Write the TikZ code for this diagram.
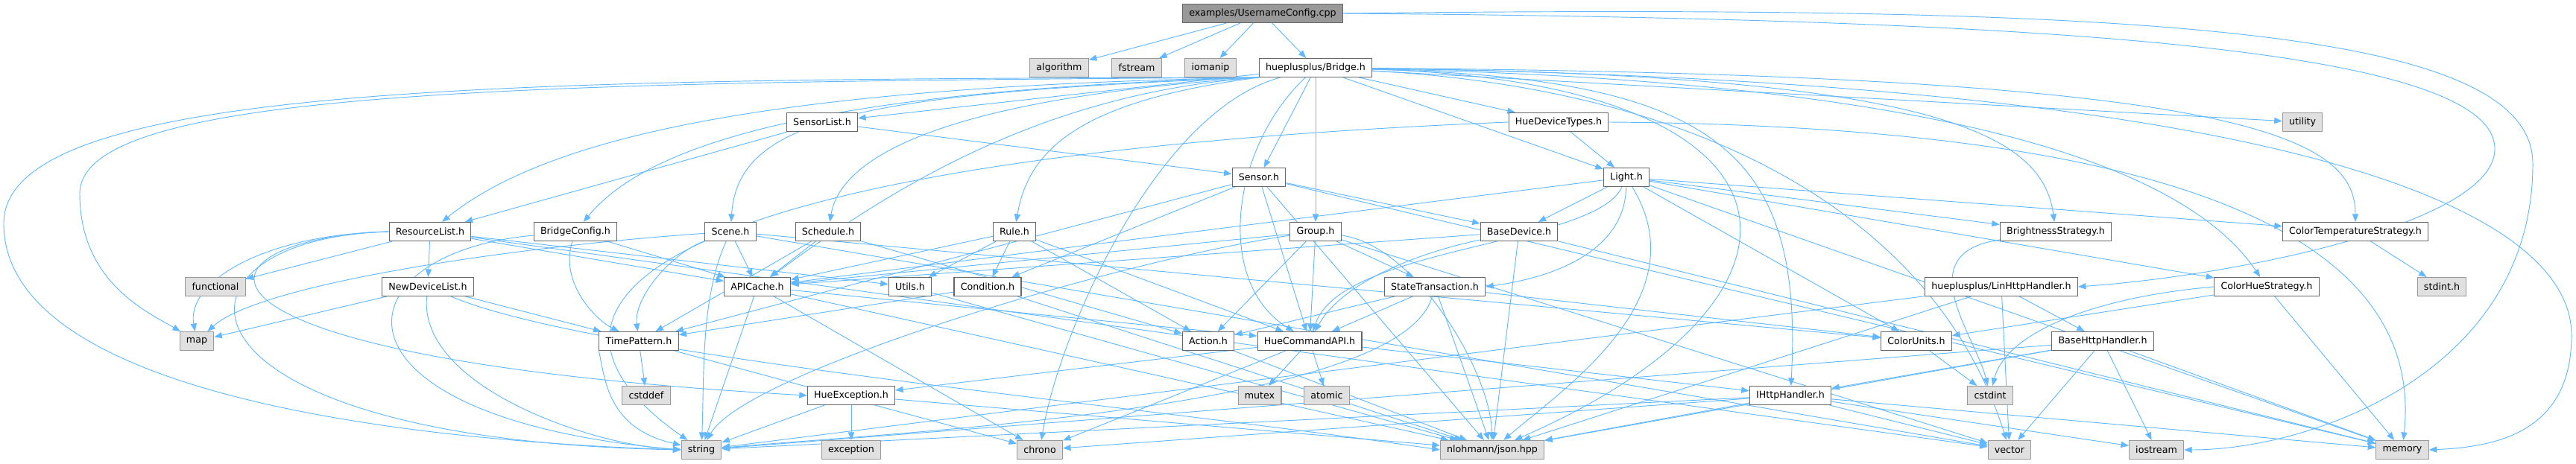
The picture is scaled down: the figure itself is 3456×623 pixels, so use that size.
\documentclass[tikz,border=0pt]{standalone}
\usepackage{fontspec}
\setmainfont{DejaVu Sans}
\usetikzlibrary{arrows.meta}
\pgfdeclarelayer{background}
\pgfsetlayers{background,main}
\definecolor{edgeblue}{HTML}{63B8FF}
\definecolor{filegray}{HTML}{666666}
\definecolor{sysgray}{HTML}{999999}
\definecolor{sysfill}{HTML}{E0E0E0}
\tikzset{
    box/.style={rectangle, line width=0.9pt, minimum height=0.75cm, inner xsep=7.5pt,
        font=\fontsize{10.8}{13}\selectfont},
    file/.style={box, draw=filegray, fill=white},
    sys/.style={box, draw=sysgray, fill=sysfill},
    rootfile/.style={box, draw=filegray, fill=sysgray},
    incl/.style={->, draw=edgeblue, line width=0.8pt}
}
\begin{document}
\begin{tikzpicture}[x=0.03cm, y=-0.03cm, >={Triangle[length=9pt,width=7pt]}]
    \useasboundingbox (0,0) rectangle (3456,623);
    % row 1 and 2
    \node[rootfile] (root) at (1694,18) {examples/UsernameConfig.cpp};
    \node[sys] (algorithm) at (1421,91) {algorithm};
    \node[sys] (fstream) at (1525,91) {fstream};
    \node[sys] (iomanip) at (1624,91) {iomanip};
    \node[file] (bridge) at (1765,91) {hueplusplus/Bridge.h};
    % row 3 and 4
    \node[file] (sensorlist) at (1103,164) {SensorList.h};
    \node[file] (devtypes) at (2091,164) {HueDeviceTypes.h};
    \node[sys] (utility) at (3089,164) {utility};
    \node[file] (sensor) at (1689,238) {Sensor.h};
    \node[file] (light) at (2182,238) {Light.h};
    % row 5
    \node[file] (resourcelist) at (577,311) {ResourceList.h};
    \node[file] (bridgeconfig) at (772,311) {BridgeConfig.h};
    \node[file] (scene) at (980,311) {Scene.h};
    \node[file] (schedule) at (1111,311) {Schedule.h};
    \node[file] (rule) at (1361,311) {Rule.h};
    \node[file] (group) at (1765,311) {Group.h};
    \node[file] (basedevice) at (2038,311) {BaseDevice.h};
    \node[file] (brightness) at (2758,311) {BrightnessStrategy.h};
    \node[file] (colortemp) at (3160,311) {ColorTemperatureStrategy.h};
    % row 6
    \node[sys] (functional) at (289,385) {functional};
    \node[file] (newdevlist) at (574,385) {NewDeviceList.h};
    \node[file] (apicache) at (1016,385) {APICache.h};
    \node[file] (utils) at (1221,385) {Utils.h};
    \node[file] (condition) at (1325,385) {Condition.h};
    \node[file] (statetrans) at (1925,385) {StateTransaction.h};
    \node[file] (linhttp) at (2685,385) {hueplusplus/LinHttpHandler.h};
    \node[file] (colorhue) at (3041,385) {ColorHueStrategy.h};
    \node[sys] (stdint) at (3276,385) {stdint.h};
    % row 7
    \node[sys] (map) at (264,458) {map};
    \node[file] (timepattern) at (857,458) {TimePattern.h};
    \node[file] (action) at (1621,458) {Action.h};
    \node[file] (huecmd) at (1757,458) {HueCommandAPI.h};
    \node[file] (colorunits) at (2571,458) {ColorUnits.h};
    \node[file] (basehttp) at (2821,458) {BaseHttpHandler.h};
    % row 8
    \node[sys] (cstddef) at (867,531) {cstddef};
    \node[file] (hueexc) at (1142,531) {HueException.h};
    \node[sys] (mutex) at (1690,531) {mutex};
    \node[sys] (atomic) at (1780,531) {atomic};
    \node[file] (ihttp) at (2402,531) {IHttpHandler.h};
    \node[sys] (cstdint) at (2670,531) {cstdint};
    % row 9
    \node[sys] (string) at (941,604) {string};
    \node[sys] (exception) at (1142,604) {exception};
    \node[sys] (chrono) at (1395,604) {chrono};
    \node[sys] (json) at (2002,604) {nlohmann/json.hpp};
    \node[sys] (vector) at (2696,604) {vector};
    \node[sys] (iostream) at (2893,604) {iostream};
    \node[sys] (memory) at (3223,604) {memory};

    \begin{pgfonlayer}{background}
    % straight includes
    \foreach \a/\b in {root/algorithm, root/fstream, root/iomanip, root/bridge,
        bridge/sensorlist, bridge/sensor, bridge/group, bridge/devtypes, bridge/light, bridge/utility,
        sensorlist/resourcelist, sensorlist/sensor,
        resourcelist/functional, resourcelist/newdevlist, resourcelist/apicache, resourcelist/utils, resourcelist/vector,
        newdevlist/map, newdevlist/timepattern, bridgeconfig/apicache,
        scene/apicache, scene/colorunits, scene/vector,
        schedule/apicache, schedule/timepattern, schedule/action,
        rule/apicache, rule/action, rule/condition, rule/huecmd, rule/utils,
        sensor/basedevice, sensor/huecmd, sensor/condition, sensor/timepattern, sensor/memory, sensor/json,
        group/action, group/huecmd, group/statetrans, group/apicache, group/vector,
        devtypes/light,
        light/basedevice, light/brightness, light/colortemp, light/colorhue, light/colorunits,
        light/apicache, light/memory,
        basedevice/json, basedevice/memory, basedevice/apicache,
        statetrans/action, statetrans/huecmd, statetrans/json, statetrans/colorunits,
        apicache/huecmd, apicache/string, apicache/chrono, apicache/json,
        timepattern/cstddef, timepattern/chrono, condition/timepattern, condition/json,
        utils/json, action/json,
        huecmd/mutex, huecmd/atomic, huecmd/chrono, huecmd/hueexc, huecmd/ihttp,
        hueexc/exception, hueexc/string, hueexc/json,
        colortemp/stdint, colorhue/colorunits, colorhue/memory, colorunits/cstdint,
        linhttp/basehttp, linhttp/vector, linhttp/json, linhttp/string,
        basehttp/ihttp, basehttp/iostream, basehttp/memory, basehttp/vector, basehttp/json, basehttp/string,
        ihttp/vector, ihttp/iostream, ihttp/memory, ihttp/chrono, ihttp/json, ihttp/string}
        \draw[incl] (\a) -- (\b);
    % curved includes
    \draw[incl] (root.east) .. controls (2700,25) and (3347,60) .. (3347,200)
        .. controls (3347,300) and (3000,370) .. (linhttp.east);
    \draw[incl] (root.east) .. controls (2900,5) and (3398,40) .. (3398,220)
        .. controls (3398,500) and (3100,604) .. (iostream.east);
    \draw[incl] (bridge.south west) .. controls (700,106) and (5,110) .. (5,300)
        .. controls (5,520) and (500,590) .. (string.west);
    \draw[incl] (bridge.south west) .. controls (700,110) and (107,120) .. (107,260)
        .. controls (107,380) and (200,420) .. (map);
    \draw[incl] (bridge.south west) .. controls (1100,115) and (750,170) .. (resourcelist);
    \draw[incl] (bridge.south west) .. controls (1150,120) and (880,180) .. (bridgeconfig);
    \draw[incl] (bridge.south west) .. controls (1150,125) and (990,160) .. (scene);
    \draw[incl] (bridge.south west) .. controls (1300,130) and (1130,200) .. (schedule);
    \draw[incl] (bridge.south west) .. controls (1450,135) and (1380,200) .. (rule);
    \draw[incl] (bridge.south west) .. controls (1400,125) and (1200,250) .. (apicache);
    \draw[incl] (bridge) .. controls (1650,200) and (1630,380) .. (huecmd);
    \draw[incl] (bridge) .. controls (2600,100) and (2740,180) .. (brightness);
    \draw[incl] (bridge) .. controls (3000,100) and (3160,180) .. (colortemp);
    \draw[incl] (bridge) .. controls (2700,110) and (2950,250) .. (colorhue);
    \draw[incl] (bridge) .. controls (2300,105) and (2420,200) .. (ihttp);
    \draw[incl] (bridge) .. controls (2450,110) and (2470,400) .. (json);
    \draw[incl] (bridge) .. controls (3150,110) and (3450,300) .. (3450,450)
        .. controls (3450,580) and (3350,600) .. (memory.east);
    \draw[incl] (bridge) .. controls (2300,120) and (2600,300) .. (vector);
    \draw[incl] (bridge) .. controls (1550,150) and (1420,450) .. (chrono);
    \draw[incl] (resourcelist.west) .. controls (350,315) and (250,380) .. (map);
    \draw[incl] (resourcelist.west) .. controls (200,320) and (200,590) .. (string.west);
    \draw[incl] (resourcelist.west) .. controls (250,320) and (180,480) .. (hueexc.west);
    \draw[incl] (newdevlist) .. controls (560,520) and (800,600) .. (string);
    \draw[incl] (newdevlist) .. controls (800,480) and (1500,540) .. (json.west);
    \draw[incl] (bridgeconfig) .. controls (750,380) and (800,430) .. (timepattern);
    \draw[incl] (bridgeconfig) .. controls (450,340) and (420,560) .. (string.west);
    \draw[incl] (scene) .. controls (700,330) and (350,380) .. (map);
    \draw[incl] (scene) .. controls (940,400) and (945,500) .. (string);
    \draw[incl] (scene) .. controls (900,340) and (850,400) .. (timepattern);
    \draw[incl] (group) .. controls (1900,330) and (2000,500) .. (json);
    \draw[incl] (group) .. controls (1500,350) and (1000,500) .. (string);
    \draw[incl] (devtypes.west) .. controls (900,210) and (650,400) .. (string);
    \draw[incl] (devtypes.east) .. controls (3000,170) and (3250,350) .. (memory);
    \draw[incl] (light) .. controls (2140,330) and (1800,330) .. (huecmd);
    \draw[incl] (light) .. controls (2180,330) and (2100,370) .. (statetrans.east);
    \draw[incl] (light) .. controls (2280,400) and (2100,520) .. (json);
    \draw[incl] (basedevice) .. controls (1900,340) and (1800,380) .. (huecmd);
    \draw[incl] (statetrans) .. controls (1880,550) and (1200,580) .. (string);
    \draw[incl] (timepattern.south west) .. controls (812,510) and (815,575) .. (string);
    \draw[incl] (brightness) .. controls (2560,340) and (2650,450) .. (cstdint);
    \draw[incl] (colorhue.west) .. controls (2800,400) and (2690,450) .. (cstdint);
    \end{pgfonlayer}
\end{tikzpicture}
\end{document}
